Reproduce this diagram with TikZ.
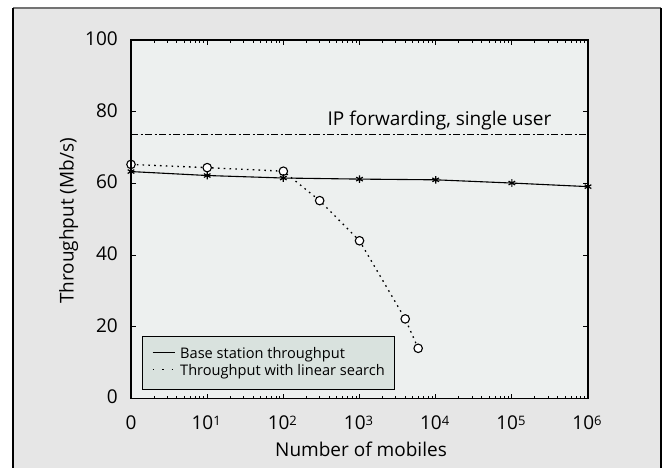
\documentclass[tikz,border=0pt]{standalone}
\usepackage{fontspec}
\setmainfont{Open Sans}
\definecolor{pagebg}{HTML}{E6E6E6}
\definecolor{plotbg}{HTML}{EDF0EF}
\definecolor{legbg}{HTML}{D9E2DE}
\newcommand{\tickfont}{\fontsize{19}{22}\selectfont}
\newcommand{\supnum}[1]{\raisebox{4.2pt}{\fontsize{13}{14}\selectfont #1}}
\begin{document}
\begin{tikzpicture}[x=1pt,y=-1pt,
  axisline/.style={line width=1.1pt,black},
  tickline/.style={line width=0.8pt,black},
  basecurve/.style={line width=1.1pt,black},
  searchcurve/.style={line width=1.3pt,black,dash pattern=on 1.6pt off 4.2pt},
  ipline/.style={line width=1pt,black,dash pattern=on 7pt off 2.5pt on 2pt off 2.5pt},
  circmark/.style={circle,draw=black,fill=white,line width=1.1pt,minimum size=8.5pt,inner sep=0pt},
  lbl/.style={font=\tickfont,inner sep=0pt},
  legtext/.style={font=\fontsize{14.6}{16}\selectfont,inner sep=0pt,anchor=base west}]
\useasboundingbox (0,0) rectangle (669,468);
\fill[white] (0,0) rectangle (669,468);
% outer panel
\fill[pagebg] (13,8) rectangle (661,475);
\draw[line width=1.6pt,black!55] (13,8) -- (661,8);
\draw[line width=1.2pt,black] (13,475) -- (13,8);
\draw[line width=1.2pt,black] (661,8) -- (661,475);
% plot area: x = decade index (0..6), y = throughput (0..100)
\begin{scope}[shift={(131,398.5)},x=76.17pt,y=3.585pt]
  \fill[plotbg] (0,0) rectangle (6,100);
  % reference line
  \coordinate (ipL) at (0,73.6);
  \coordinate (ipR) at (6,73.6);
  \draw[ipline] (ipL) -- (ipR);
  % data points
  \coordinate (b0) at (0,63.3);
  \coordinate (b1) at (1,62.2);
  \coordinate (b2) at (2,61.5);
  \coordinate (b3) at (3,61.2);
  \coordinate (b4) at (4,61.0);
  \coordinate (b5) at (5,60.1);
  \coordinate (b6) at (6,59.1);
  \coordinate (s0) at (0,65.3);
  \coordinate (s1) at (1,64.4);
  \coordinate (s2) at (2,63.4);
  \coordinate (s3) at (2.477,55.2);
  \coordinate (s4) at (3,44);
  \coordinate (s5) at (3.6,22.2);
  \coordinate (s6) at (3.77,14.0);
  \draw[searchcurve] (s0) -- (s1) -- (s2) -- (s3) -- (s4) -- (s5) -- (s6);
  \draw[basecurve] (b0) -- (b1) -- (b2) -- (b3) -- (b4) -- (b5) -- (b6);
  \foreach \p in {s0,s1,s2,s3,s4,s5,s6}
    \node[circmark] at (\p) {};
  \foreach \p in {b0,b1,b2,b3,b4,b5,b6}
    \draw[line width=1.2pt] ([shift={(0pt,-3.8pt)}]\p) -- ([shift={(0pt,3.8pt)}]\p)
      ([shift={(-3.3pt,-1.9pt)}]\p) -- ([shift={(3.3pt,1.9pt)}]\p)
      ([shift={(-3.3pt,1.9pt)}]\p) -- ([shift={(3.3pt,-1.9pt)}]\p);
  % ticks
  \foreach \k in {0,...,5}
    \foreach \m in {2,...,9} {
      \pgfmathsetmacro\dd{\k+log10(\m)}
      \draw[tickline] (\dd,0) -- ++(0pt,3pt);
      \draw[tickline] (\dd,100) -- ++(0pt,-3pt);
    }
  \foreach \k in {1,...,5} {
    \draw[tickline] (\k,0) -- ++(0pt,5pt);
    \draw[tickline] (\k,100) -- ++(0pt,-5pt);
  }
  \foreach \v in {20,40,60,80} {
    \draw[tickline] (0,\v) -- ++(5pt,0pt);
    \draw[tickline] (6,\v) -- ++(-5pt,0pt);
  }
  % frame
  \draw[axisline] (0,0) rectangle (6,100);
\end{scope}
% axis labels
\foreach \v/\py in {0/397,20/325.3,40/253.6,60/182,80/110.3,100/38.6}
  \node[lbl,anchor=east] at (118,\py) {\v};
\node[lbl,anchor=base] at (131,429.5) {0};
\foreach \k in {1,...,6}
  \node[lbl,anchor=base] at (131+\k*76.17-1,429.5) {10\supnum{\k}};
\node[lbl,anchor=base] at (361,456) {Number of mobiles};
\node[lbl,anchor=base,rotate=90] at (73.5,221) {Throughput (Mb/s)};
\node[lbl,anchor=base] at (439.5,125.3) {IP forwarding, single user};
% legend
\node[draw=black,line width=1pt,fill=legbg,minimum width=252pt,minimum height=53pt,
      inner sep=0pt,anchor=north west] (legend) at (142,336) {};
\coordinate (l1a) at (152.5,352.7);
\coordinate (l1b) at (174.5,352.7);
\coordinate (l2a) at (152.5,369.3);
\coordinate (l2b) at (175,369.3);
\draw[basecurve] (l1a) -- (l1b);
\draw[line width=1.3pt,dash pattern=on 1.6pt off 8pt] (l2a) -- (l2b);
\node[legtext] at (180,358.3) {Base station throughput};
\node[legtext] at (180,375) {Throughput with linear search};
\end{tikzpicture}
\end{document}
